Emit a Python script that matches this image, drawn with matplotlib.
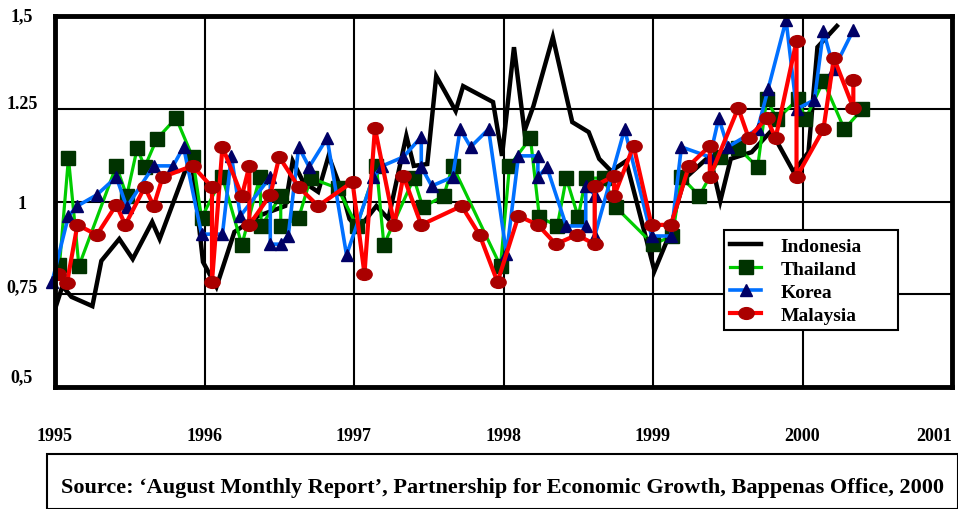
import numpy as np
import matplotlib
matplotlib.use("Agg")
import matplotlib.pyplot as plt
import matplotlib.transforms as mtransforms
from matplotlib.path import Path
from matplotlib.markers import MarkerStyle
from matplotlib.patches import Rectangle

plt.rcParams['font.family'] = ['Liberation Serif', 'DejaVu Serif']
plt.rcParams['font.weight'] = 'bold'

# valores (ano decimal, indice)
indo_x = [1995.0, 1995.05, 1995.11, 1995.25, 1995.31, 1995.43, 1995.52, 1995.65, 1995.70, 1995.87,
          1995.92, 1995.99, 1996.08, 1996.20, 1996.36, 1996.54, 1996.59, 1996.66, 1996.76, 1996.83,
          1996.92, 1996.97, 1997.03, 1997.15, 1997.23, 1997.35, 1997.40, 1997.49, 1997.55, 1997.61,
          1997.68, 1997.73, 1997.93, 1997.99, 1998.07, 1998.14, 1998.20, 1998.33, 1998.46, 1998.57,
          1998.64, 1998.72, 1998.82, 1999.01, 1999.09, 1999.21, 1999.38, 1999.45, 1999.52, 1999.66,
          1999.79, 1999.94, 2000.04, 2000.10, 2000.23]
indo_y = [0.710, 0.772, 0.743, 0.718, 0.840, 0.899, 0.845, 0.945, 0.899, 1.082,
          1.093, 0.837, 0.770, 0.918, 0.961, 0.988, 1.109, 1.053, 1.026, 1.123,
          1.026, 0.953, 0.926, 0.988, 0.953, 1.177, 1.096, 1.101, 1.338, 1.295,
          1.244, 1.311, 1.268, 1.123, 1.416, 1.190, 1.257, 1.443, 1.214, 1.187,
          1.115, 1.082, 1.109, 0.813, 0.891, 1.061, 1.123, 1.001, 1.115, 1.133,
          1.190, 1.080, 1.133, 1.416, 1.473]

thai_x = [1995.03, 1995.09, 1995.16, 1995.41, 1995.48, 1995.55, 1995.60, 1995.68, 1995.81, 1995.92,
          1995.98, 1996.12, 1996.25, 1996.37, 1996.38, 1996.51, 1996.51, 1996.63, 1996.71, 1996.89,
          1997.02, 1997.15, 1997.20, 1997.40, 1997.46, 1997.60, 1997.66, 1997.98, 1998.04, 1998.18,
          1998.24, 1998.36, 1998.42, 1998.50, 1998.55, 1998.67, 1998.75, 1999.00, 1999.13, 1999.19,
          1999.31, 1999.45, 1999.57, 1999.70, 1999.76, 1999.83, 1999.97, 2000.02, 2000.14, 2000.28,
          2000.40]
thai_y = [0.829, 1.117, 0.826, 1.096, 1.015, 1.144, 1.093, 1.168, 1.225, 1.120,
          0.956, 1.066, 0.883, 1.066, 0.934, 1.015, 0.934, 0.956, 1.063, 1.036,
          0.934, 1.096, 0.883, 1.063, 0.985, 1.015, 1.096, 0.826, 1.096, 1.171,
          0.958, 0.934, 1.063, 0.958, 1.063, 1.063, 0.985, 0.885, 0.907, 1.066,
          1.015, 1.120, 1.144, 1.093, 1.276, 1.222, 1.276, 1.222, 1.325, 1.195,
          1.249]

korea_x = [1994.98, 1995.09, 1995.15, 1995.28, 1995.41, 1995.48, 1995.66, 1995.79, 1995.86, 1995.98,
           1996.12, 1996.18, 1996.24, 1996.44, 1996.44, 1996.51, 1996.56, 1996.63, 1996.70, 1996.82,
           1996.95, 1997.13, 1997.19, 1997.33, 1997.45, 1997.45, 1997.52, 1997.66, 1997.71, 1997.78,
           1997.90, 1998.02, 1998.10, 1998.23, 1998.23, 1998.29, 1998.42, 1998.55, 1998.55, 1998.61,
           1998.61, 1998.81, 1998.99, 1999.12, 1999.19, 1999.38, 1999.44, 1999.50, 1999.70, 1999.77,
           1999.89, 1999.96, 2000.08, 2000.14, 2000.21, 2000.34]
korea_y = [0.783, 0.961, 0.988, 1.018, 1.066, 0.985, 1.096, 1.096, 1.147, 0.912,
           0.912, 1.123, 0.961, 1.066, 0.885, 0.885, 0.907, 1.147, 1.093, 1.171,
           0.856, 1.066, 1.096, 1.120, 1.174, 1.093, 1.042, 1.066, 1.195, 1.147,
           1.195, 0.858, 1.123, 1.123, 1.066, 1.093, 0.934, 0.934, 1.042, 1.018,
           0.907, 1.195, 0.907, 0.907, 1.147, 1.120, 1.225, 1.147, 1.195, 1.303,
           1.489, 1.249, 1.274, 1.460, 1.357, 1.462]

malay_x = [1995.02, 1995.08, 1995.15, 1995.28, 1995.41, 1995.47, 1995.60, 1995.66, 1995.72, 1995.92,
           1996.05, 1996.05, 1996.12, 1996.25, 1996.30, 1996.30, 1996.44, 1996.50, 1996.63, 1996.76,
           1996.99, 1997.07, 1997.14, 1997.27, 1997.33, 1997.45, 1997.72, 1997.84, 1997.96, 1998.10,
           1998.23, 1998.35, 1998.49, 1998.61, 1998.61, 1998.74, 1998.74, 1998.87, 1998.99, 1999.12,
           1999.24, 1999.38, 1999.38, 1999.57, 1999.64, 1999.76, 1999.82, 1999.96, 1999.96, 2000.14,
           2000.21, 2000.34, 2000.34]
malay_y = [0.805, 0.780, 0.937, 0.910, 0.991, 0.937, 1.039, 0.988, 1.066, 1.096,
           1.039, 0.783, 1.147, 1.015, 1.096, 0.937, 1.018, 1.120, 1.039, 0.988,
           1.053, 0.805, 1.198, 0.937, 1.069, 0.937, 0.988, 0.910, 0.783, 0.961,
           0.937, 0.885, 0.910, 0.885, 1.042, 1.069, 1.015, 1.150, 0.937, 0.937,
           1.096, 1.150, 1.066, 1.252, 1.171, 1.225, 1.171, 1.433, 1.066, 1.195,
           1.387, 1.252, 1.327]

anos = [1995, 1996, 1997, 1998, 1999, 2000, 2001]
y_ticks = [0.5, 0.75, 1.0, 1.25, 1.5]
y_labels = ['0,5', '0,75', '1', '1.25', '1,5']
fonte = "Source: \u2018August Monthly Report\u2019, Partnership for Economic Growth, Bappenas Office, 2000"

# marcador eliptico para a Malasia
circ = Path.unit_circle()
elipse = Path(circ.vertices * [1.3, 1.0], circ.codes)

fig = plt.figure(figsize=(9.58, 5.10), dpi=100)
ax = fig.add_axes([55 / 958, 1 - 388 / 510, 897 / 958, 371 / 510])

ax.plot(indo_x, indo_y, color='black', lw=3.2, solid_joinstyle='miter', label='Indonesia', zorder=3)
ax.plot(thai_x, thai_y, color='#00cc00', lw=2.3, marker='s', ms=10, mfc='#003300', mec='#003300',
        label='Thailand', zorder=4)
ax.plot(korea_x, korea_y, color='#0070ff', lw=2.6, marker='^', ms=9, mfc='#000066', mec='#000066',
        label='Korea', zorder=5, clip_on=False)
ax.plot(malay_x, malay_y, color='#ff0000', lw=3.0, marker=MarkerStyle(elipse), ms=11, mfc='#aa0000',
        mec='#aa0000', label='Malaysia', zorder=6)

ax.set_xlim(1995, 2001)
ax.set_ylim(0.5, 1.5)
ax.set_xticks(anos)
ax.set_xticklabels([str(a) for a in anos])
ax.set_yticks(y_ticks)
ax.set_yticklabels([])
ax.tick_params(axis='both', length=0)
ax.tick_params(axis='x', pad=29, labelsize=13)
ax.get_xticklabels()[-1].set_horizontalalignment('right')
for lab in ax.get_xticklabels():
    lab.set_fontweight('bold')

# rotulos do eixo y deslocados como no original
desloc = [10, 8, -2, 5, 0]
trans_y = mtransforms.blended_transform_factory(ax.transAxes, ax.transData)
for v, txt, d in zip(y_ticks, y_labels, desloc):
    t = trans_y + mtransforms.ScaledTranslation(0, d / 100, fig.dpi_scale_trans)
    ax.text(-0.037, v, txt, transform=t, ha='center', va='center', fontsize=13,
            fontweight='bold', clip_on=False)

ax.grid(True, color='black', lw=1.5)
ax.set_axisbelow(True)
for s in ax.spines.values():
    s.set_linewidth(3.5)
    s.set_zorder(10)

# legenda com moldura propria
ax.add_patch(Rectangle((0.7458, 0.1536), 0.194, 0.2696, transform=ax.transAxes, facecolor='white',
                       edgecolor='black', lw=1.5, zorder=19))
leg = ax.legend(loc='upper left', bbox_to_anchor=(0.7525, 0.404), borderaxespad=0, frameon=False,
                prop={'weight': 'bold', 'size': 14}, handlelength=1.6, handletextpad=1.0,
                labelspacing=0.28, borderpad=0)
leg.set_zorder(20)

fig.patches.append(Rectangle((47 / 958, 0), 1 - 47 / 958, 55 / 510, transform=fig.transFigure,
                             fill=False, edgecolor='black', lw=1.5))
fig.text(502 / 958, 1 - 488 / 510, fonte, ha='center', va='center', fontsize=16, fontweight='bold')

fig.savefig('out.png', dpi=100)
